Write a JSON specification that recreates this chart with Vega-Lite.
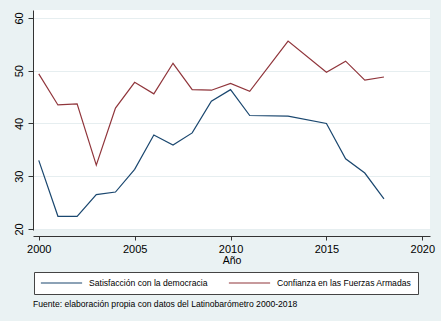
{
  "$schema": "https://vega.github.io/schema/vega-lite/v6.json",
  "width": 397,
  "height": 220,
  "autosize": {"type": "none"},
  "padding": {"left": 33, "top": 10, "right": 11, "bottom": 91},
  "background": "#eaf2f3",
  "config": {
    "view": {"fill": "white", "stroke": null},
    "font": "Liberation Sans"
  },
  "title": {
    "text": "Fuente: elaboración propia con datos del Latinobarómetro 2000-2018",
    "orient": "bottom",
    "anchor": "start",
    "frame": "group",
    "fontSize": 8.6,
    "fontWeight": "normal",
    "color": "black",
    "offset": 5
  },
  "data": {
    "values": [
      {"year": 2000, "serie": "Satisfacción con la democracia", "value": 33.0},
      {"year": 2001, "serie": "Satisfacción con la democracia", "value": 22.4},
      {"year": 2002, "serie": "Satisfacción con la democracia", "value": 22.4},
      {"year": 2003, "serie": "Satisfacción con la democracia", "value": 26.5},
      {"year": 2004, "serie": "Satisfacción con la democracia", "value": 27.0},
      {"year": 2005, "serie": "Satisfacción con la democracia", "value": 31.3},
      {"year": 2006, "serie": "Satisfacción con la democracia", "value": 37.8},
      {"year": 2007, "serie": "Satisfacción con la democracia", "value": 35.9},
      {"year": 2008, "serie": "Satisfacción con la democracia", "value": 38.2},
      {"year": 2009, "serie": "Satisfacción con la democracia", "value": 44.2},
      {"year": 2010, "serie": "Satisfacción con la democracia", "value": 46.4},
      {"year": 2011, "serie": "Satisfacción con la democracia", "value": 41.5},
      {"year": 2013, "serie": "Satisfacción con la democracia", "value": 41.4},
      {"year": 2015, "serie": "Satisfacción con la democracia", "value": 40.0},
      {"year": 2016, "serie": "Satisfacción con la democracia", "value": 33.3},
      {"year": 2017, "serie": "Satisfacción con la democracia", "value": 30.6},
      {"year": 2018, "serie": "Satisfacción con la democracia", "value": 25.7},
      {"year": 2000, "serie": "Confianza en las Fuerzas Armadas", "value": 49.4},
      {"year": 2001, "serie": "Confianza en las Fuerzas Armadas", "value": 43.5},
      {"year": 2002, "serie": "Confianza en las Fuerzas Armadas", "value": 43.7},
      {"year": 2003, "serie": "Confianza en las Fuerzas Armadas", "value": 32.1},
      {"year": 2004, "serie": "Confianza en las Fuerzas Armadas", "value": 42.9},
      {"year": 2005, "serie": "Confianza en las Fuerzas Armadas", "value": 47.8},
      {"year": 2006, "serie": "Confianza en las Fuerzas Armadas", "value": 45.6},
      {"year": 2007, "serie": "Confianza en las Fuerzas Armadas", "value": 51.4},
      {"year": 2008, "serie": "Confianza en las Fuerzas Armadas", "value": 46.4},
      {"year": 2009, "serie": "Confianza en las Fuerzas Armadas", "value": 46.3},
      {"year": 2010, "serie": "Confianza en las Fuerzas Armadas", "value": 47.6},
      {"year": 2011, "serie": "Confianza en las Fuerzas Armadas", "value": 46.1},
      {"year": 2013, "serie": "Confianza en las Fuerzas Armadas", "value": 55.6},
      {"year": 2015, "serie": "Confianza en las Fuerzas Armadas", "value": 49.7},
      {"year": 2016, "serie": "Confianza en las Fuerzas Armadas", "value": 51.8},
      {"year": 2017, "serie": "Confianza en las Fuerzas Armadas", "value": 48.2},
      {"year": 2018, "serie": "Confianza en las Fuerzas Armadas", "value": 48.8}
    ]
  },
  "mark": {"type": "line", "strokeWidth": 1.2},
  "encoding": {
    "x": {
      "field": "year",
      "type": "quantitative",
      "scale": {"domain": [1999.7, 2020.4], "nice": false, "zero": false},
      "axis": {
        "values": [2000, 2005, 2010, 2015, 2020],
        "format": "d",
        "title": "Año",
        "grid": false,
        "offset": 6,
        "tickSize": 4,
        "labelFontSize": 11,
        "titleFontSize": 10.5,
        "titleFontWeight": "normal",
        "domainColor": "#333333",
        "tickColor": "#333333",
        "labelColor": "black",
        "titleColor": "black",
        "labelPadding": 3,
        "titlePadding": 1
      }
    },
    "y": {
      "field": "value",
      "type": "quantitative",
      "scale": {"domain": [19.8, 61.5], "nice": false, "zero": false},
      "axis": {
        "values": [20, 30, 40, 50, 60],
        "title": null,
        "labelAngle": -90,
        "labelAlign": "center",
        "labelBaseline": "bottom",
        "labelFontSize": 11,
        "labelColor": "black",
        "labelPadding": 4,
        "tickSize": 5,
        "domainColor": "#333333",
        "tickColor": "#333333",
        "gridColor": "#e6eef0",
        "gridWidth": 1
      }
    },
    "color": {
      "field": "serie",
      "type": "nominal",
      "scale": {
        "domain": ["Satisfacción con la democracia", "Confianza en las Fuerzas Armadas"],
        "range": ["#1a476f", "#90353b"]
      },
      "legend": {
        "orient": "none",
        "legendX": 1,
        "legendY": 262,
        "direction": "horizontal",
        "title": null,
        "fillColor": "white",
        "strokeColor": "#444444",
        "padding": 6,
        "gridAlign": "none",
        "symbolType": "stroke",
        "symbolSize": 1700,
        "clipHeight": 10,
        "symbolStrokeWidth": 1.2,
        "labelFontSize": 8.6,
        "labelColor": "black",
        "labelOffset": 6,
        "columnPadding": 20
      }
    }
  }
}
